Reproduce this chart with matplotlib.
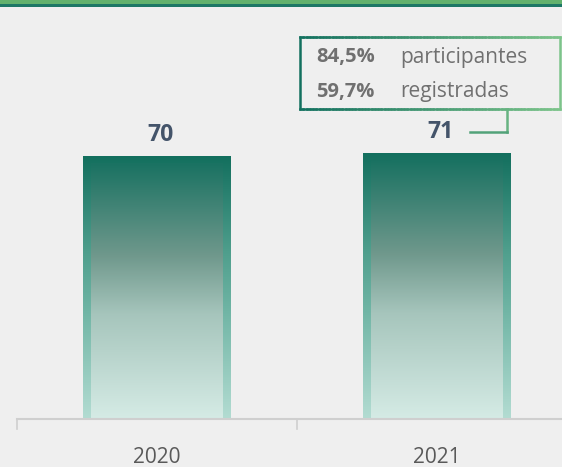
import numpy as np
import matplotlib.pyplot as plt
from matplotlib.patches import Rectangle
from matplotlib.collections import LineCollection
from matplotlib.colors import LinearSegmentedColormap, to_rgb

years = ['2020', '2021']
totals = [70, 71]
pct_values = ['84,5%', '59,7%']
pct_labels = ['participantes', 'registradas']

W, H = 562, 467
fig = plt.figure(figsize=(W / 100, H / 100), dpi=100, facecolor='#EFEFEF')

# axes placement in pixels: x 17..562, y 419..6 (from top)
PX_X = 280
PX_Y = 3.743
ax = fig.add_axes([17 / W, (H - 419) / H, (W - 17) / W, (419 - 6) / H])
ax.set_facecolor('#EFEFEF')
ax.set_xlim(-0.5, -0.5 + 545 / PX_X)
ax.set_ylim(0, 413 / PX_Y)

bar_w = 148 / PX_X
outer = LinearSegmentedColormap.from_list(
    'o', [(0, '#B3DCD2'), (0.41, '#70B5A5'), (0.64, '#4E9E8C'), (1, '#136F5E')])
inner = LinearSegmentedColormap.from_list(
    'i', [(0, '#D5EBE5'), (0.41, '#A6C5BC'), (0.64, '#6F988C'), (1, '#1A7262')])
grad = np.linspace(0, 1, 256).reshape(-1, 1)

for i, v in enumerate(totals):
    x0 = i - bar_w / 2
    ax.imshow(grad, cmap=outer, origin='lower', aspect='auto',
              extent=(x0, x0 + bar_w, 0, v), zorder=2)
    dx = 8 / PX_X
    dy = 7 / PX_Y
    ax.imshow(grad, cmap=inner, origin='lower', aspect='auto',
              extent=(x0 + dx, x0 + bar_w - dx, 0, v - dy), zorder=3)
    ax.text(i + 4 / PX_X, v + 2.6, str(v), ha='center', va='bottom', fontsize=16.5,
            fontweight='bold', color='#44546A', family='Open Sans', zorder=5)

ax.set_xticks([0, 1])
ax.set_xticklabels(years, fontsize=15, color='#595959', family='Open Sans')
ax.tick_params(axis='x', length=0, pad=20)
ax.set_yticks([])
for s in ['top', 'right', 'left']:
    ax.spines[s].set_visible(False)
ax.spines['bottom'].set_color('#CFCFCF')
ax.spines['bottom'].set_linewidth(1.5)
ax.spines['bottom'].set_zorder(6)
for xb in [-0.5, 0.5]:
    ax.plot([xb, xb], [0, -10 / PX_Y], color='#CFCFCF', lw=1.2, clip_on=False)

# top band
fig.patches.append(Rectangle((0, 1 - 4.5 / H), 1, 4.5 / H, transform=fig.transFigure,
                             facecolor='#62B16D', edgecolor='none'))
fig.patches.append(Rectangle((0, 1 - 6.5 / H), 1, 2.2 / H, transform=fig.transFigure,
                             facecolor='#1D7766', edgecolor='none'))


# annotation box with gradient border (pixel coords from top-left)
def fx(x):
    return x / W


def fy(y):
    return 1 - y / H


c0 = np.array(to_rgb('#12705F'))
c1 = np.array(to_rgb('#7CC48A'))
bx0, bx1, by0, by1 = 300, 560, 37, 109
n = 80
xs = np.linspace(bx0, bx1, n + 1)
segs, cols = [], []
for k in range(n):
    t = (k + 0.5) / n
    col = c0 + (c1 - c0) * t
    for yy in (by0, by1):
        segs.append([(fx(xs[k]), fy(yy)), (fx(xs[k + 1]), fy(yy))])
        cols.append(col)
segs.append([(fx(bx0), fy(by0)), (fx(bx0), fy(by1))])
cols.append(c0)
segs.append([(fx(bx1), fy(by0)), (fx(bx1), fy(by1))])
cols.append(c1)
# connector
segs.append([(fx(507), fy(by1)), (fx(507), fy(132))])
cols.append(c0 + (c1 - c0) * 0.8)
segs.append([(fx(507), fy(132)), (fx(470), fy(132))])
cols.append(c0 + (c1 - c0) * 0.6)
lc = LineCollection(segs, colors=cols, linewidths=1.8, transform=fig.transFigure,
                    capstyle='projecting')
fig.add_artist(lc)

for k, (pv, pl) in enumerate(zip(pct_values, pct_labels)):
    yy = 57 + k * 35
    fig.text(fx(316), fy(yy), pv, ha='left', va='center', fontsize=14.5,
             fontweight='bold', color='#707070', family='Open Sans')
    fig.text(fx(400), fy(yy), pl, ha='left', va='center', fontsize=15,
             color='#707070', family='Open Sans')

fig.savefig('out.png', dpi=100, facecolor=fig.get_facecolor())
